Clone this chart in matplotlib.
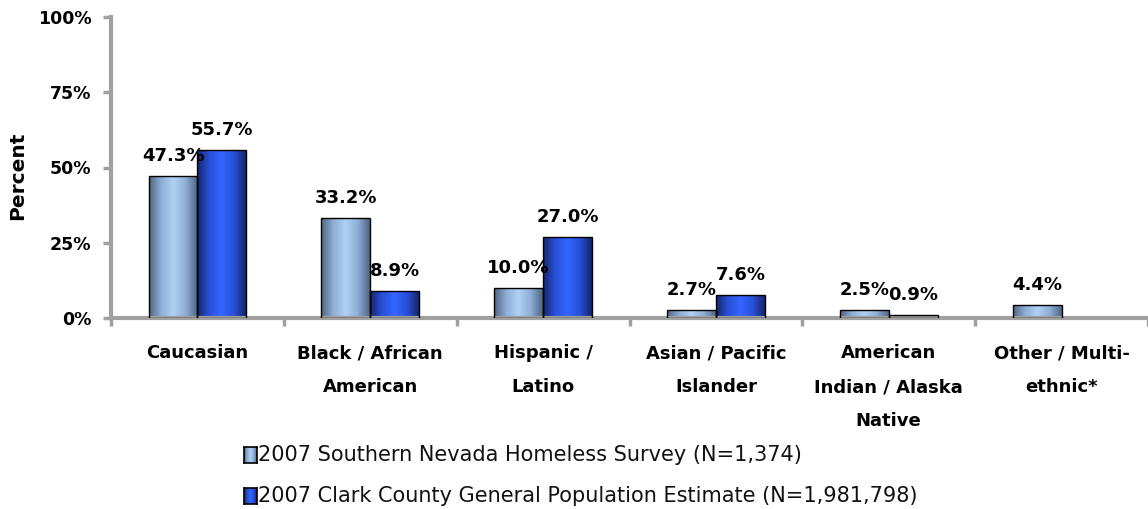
import numpy as np
import matplotlib
matplotlib.use("Agg")
import matplotlib.pyplot as plt
from matplotlib.colors import LinearSegmentedColormap
from matplotlib.patches import Rectangle

categories = ["Caucasian", "Black / African\nAmerican", "Hispanic /\nLatino",
              "Asian / Pacific\nIslander", "American\nIndian / Alaska\nNative",
              "Other / Multi-\nethnic*"]
homeless = [47.3, 33.2, 10.0, 2.7, 2.5, 4.4]
general = [55.7, 8.9, 27.0, 7.6, 0.9, np.nan]
series_names = ["2007 Southern Nevada Homeless Survey (N=1,374)",
                "2007 Clark County General Population Estimate (N=1,981,798)"]
yticks = [0, 25, 50, 75, 100]

plt.rcParams['font.family'] = ['DejaVu Sans']

fig = plt.figure(figsize=(11.48, 5.09), dpi=100)
ax = fig.add_axes([111/1148, 1-318/509, 1-111/1148, (318-17)/509])

light_cmap = LinearSegmentedColormap.from_list("l", ["#4f6480", "#8eaed6", "#b0d0f4", "#8eaed6", "#4f6480"])
dark_cmap = LinearSegmentedColormap.from_list("d", ["#15256a", "#2850d8", "#3366ff", "#2850d8", "#15256a"])
grad = np.linspace(0, 1, 256).reshape(1, -1)

x = np.arange(len(categories)) + 0.5
w = 0.283

def draw(xs, vals, cmap, offset):
    for xi, v in zip(xs, vals):
        if np.isnan(v):
            continue
        left = xi + offset
        r = Rectangle((left, 0), w, v, facecolor='none', edgecolor='black', linewidth=1.0, zorder=3)
        ax.add_patch(r)
        im = ax.imshow(grad, cmap=cmap, aspect='auto', extent=(left, left + w, 0, v), zorder=2)
        im.set_clip_path(r)
        ax.annotate(f"{v:.1f}%", (left + w/2, v), xytext=(0, 8), textcoords='offset points',
                    ha='center', va='bottom', fontsize=13, fontweight='bold', zorder=4)

draw(x, homeless, light_cmap, -w)
draw(x, general, dark_cmap, 0)

ax.set_xlim(0, len(categories))
ax.set_ylim(0, 100)
ax.set_yticks(yticks)
ax.set_yticklabels([f"{t}%" for t in yticks], fontsize=12.5, fontweight='bold')
ax.set_xticks(np.arange(len(categories) + 1))
ax.set_xticklabels([])
ax.set_xticks(x, minor=True)
ax.set_xticklabels(categories, minor=True, fontsize=13, fontweight='bold', linespacing=2.12, va='top')
ax.tick_params(axis='x', which='minor', length=0, pad=19)
ax.tick_params(axis='x', which='major', length=6, width=2.5, color='#a0a0a0')
ax.tick_params(axis='y', length=6, width=2.5, color='#a0a0a0', pad=8)
for s in ['top', 'right']:
    ax.spines[s].set_visible(False)
for s in ['left', 'bottom']:
    ax.spines[s].set_color('#a0a0a0')
    ax.spines[s].set_linewidth(3)
fig.text(17.5/1148, 1-176/509, "Percent", rotation=90, fontsize=14.5, fontweight='bold',
         ha='center', va='center')

# legend
for i, (name, cmap) in enumerate(zip(series_names, [light_cmap, dark_cmap])):
    yc = 1 - (455 + i*41)/509
    lax = fig.add_axes([244/1148, yc - 8/509, 13/1148, 16/509])
    lax.imshow(grad, cmap=cmap, aspect='auto', extent=(0, 1, 0, 1))
    lax.set_xticks([]); lax.set_yticks([])
    for sp in lax.spines.values():
        sp.set_color('black'); sp.set_linewidth(1.2)
    fig.text(258/1148, yc, name, fontsize=15, va='center', ha='left', color='#111111')

fig.savefig("out.png", dpi=100)
